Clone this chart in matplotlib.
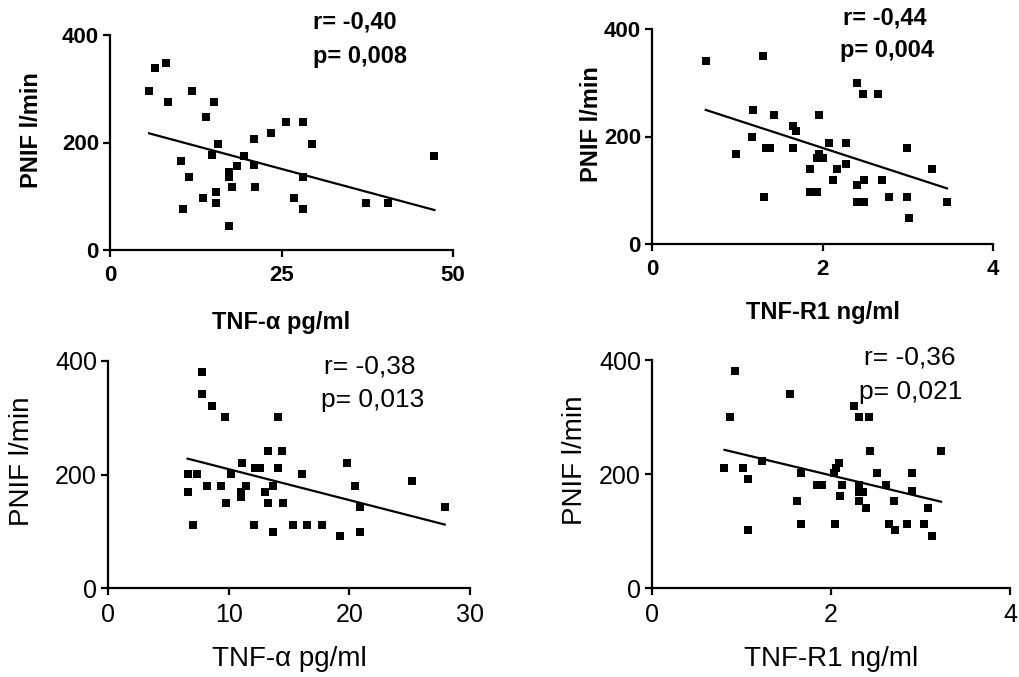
import numpy as np
import matplotlib
matplotlib.use('Agg')
import matplotlib.pyplot as plt

plt.rcParams['font.family'] = ['Liberation Sans', 'DejaVu Sans']

# panel A: TNF-alpha (pg/ml) vs PNIF, top left
tnfa_top = [5.7, 6.5, 8.1, 8.4, 12.0, 15.1, 14.0, 10.4, 11.5, 10.7, 13.5, 15.5, 15.5, 14.8,
            15.8, 17.4, 17.4, 17.8, 17.4, 18.5, 19.5, 21.0, 21.0, 21.1, 23.4, 25.6, 28.1,
            29.5, 28.2, 26.8, 28.1, 37.3, 40.5, 47.3]
pnif_a = [296, 338, 347, 276, 296, 276, 247, 166, 136, 76, 97, 107, 88, 177,
          197, 146, 135, 117, 45, 157, 174, 207, 158, 117, 217, 238, 238,
          197, 135, 97, 76, 88, 88, 175]

# panel B: TNF-R1 (ng/ml) vs PNIF, top right
tnfr1_top = [0.63, 1.30, 2.41, 2.48, 2.65, 1.18, 1.43, 1.96, 1.65, 1.69, 1.17, 0.98, 1.34,
             1.38, 1.65, 2.08, 2.27, 1.96, 1.93, 2.01, 1.85, 2.17, 2.28, 2.12, 2.40, 2.49,
             2.70, 2.99, 3.29, 1.31, 1.85, 1.93, 2.40, 2.49, 2.78, 2.99, 3.02, 3.46]
pnif_b = [340, 350, 299, 280, 280, 250, 240, 240, 219, 210, 200, 168, 179,
          179, 179, 188, 188, 167, 160, 160, 139, 139, 149, 120, 109, 120,
          120, 179, 139, 88, 97, 97, 78, 78, 88, 88, 48, 78]

# panel C: TNF-alpha (pg/ml) vs PNIF, bottom left
tnfa_bot = [7.8, 7.8, 8.6, 9.7, 14.1, 6.6, 7.4, 6.6, 7.05, 8.2, 9.4, 10.2, 9.8, 11.1,
            11.0, 11.0, 11.4, 12.2, 12.6, 12.1, 13.0, 13.3, 14.4, 14.1, 13.7, 13.3, 14.5,
            13.7, 15.3, 16.1, 16.5, 17.7, 19.2, 19.8, 20.5, 20.9, 20.9, 25.2, 27.9]
pnif_c = [381, 341, 321, 301, 301, 201, 201, 170, 111, 180, 180, 201, 150, 220,
          170, 161, 180, 211, 211, 111, 170, 241, 241, 211, 180, 150, 150,
          98, 111, 201, 111, 111, 91, 220, 180, 142, 98, 189, 142]

# panel D: TNF-R1 (ng/ml) vs PNIF, bottom right
tnfr1_bot = [0.93, 0.87, 1.54, 2.26, 2.31, 2.43, 2.44, 3.23, 0.81, 1.02, 1.07, 1.23, 1.07,
             1.67, 1.62, 1.67, 1.84, 1.90, 2.04, 2.09, 2.06, 2.03, 2.12, 2.10, 2.31, 2.36,
             2.31, 2.31, 2.39, 2.51, 2.62, 2.70, 2.65, 2.72, 2.85, 2.91, 2.91, 3.04, 3.08, 3.13]
pnif_d = [380, 300, 341, 320, 300, 300, 240, 240, 210, 210, 191, 222, 102,
          201, 152, 112, 180, 180, 112, 219, 210, 201, 180, 162, 180, 169,
          169, 152, 141, 201, 180, 152, 112, 102, 112, 201, 171, 112, 141, 92]

# regression lines as drawn (intercept, slope)
fit_intercept = [236.6, 282.0, 263.9, 272.8]
fit_slope = [-3.43, -51.6, -5.45, -37.6]

r_text = ['r= -0,40', 'r= -0,44', 'r= -0,38', 'r= -0,36']
p_text = ['p= 0,008', 'p= 0,004', 'p= 0,013', 'p= 0,021']

x_labels = ['TNF-\u03b1 pg/ml', 'TNF-R1 ng/ml', 'TNF-\u03b1 pg/ml', 'TNF-R1 ng/ml']
y_label = 'PNIF l/min'
x_ticks = [[0, 25, 50], [0, 2, 4], [0, 10, 20, 30], [0, 2, 4]]
y_ticks = [0, 200, 400]

xs = [tnfa_top, tnfr1_top, tnfa_bot, tnfr1_bot]
ys = [pnif_a, pnif_b, pnif_c, pnif_d]

W, H = 1019, 677
fig = plt.figure(figsize=(W / 100, H / 100), dpi=100)

# axes boxes in pixels: left, right, top, bottom
boxes = [(110, 453, 35, 250), (652, 993, 29, 244), (108, 470, 361, 588), (652, 1010, 360, 588)]
# label centres: x label distance below axis, y label distance left of axis (pixels)
xlab_off = [72, 68, 71, 71]
ylab_off = [78, 60, 86, 77]
# annotation text positions (pixels: left, vertical centre)
r_pos = [(313, 22), (843, 18), (324, 367), (864, 357)]
p_pos = [(313, 57), (840, 50), (321, 400), (859, 392)]

for i in range(4):
    l, r, t, b = boxes[i]
    ax = fig.add_axes([l / W, 1 - b / H, (r - l) / W, (b - t) / H])
    top = i < 2
    fw = 'bold' if top else 'normal'
    tick_fs = 16 if top else 18
    lab_fs = 17 if top else 20
    ann_fs = 17 if top else 19

    ax.scatter(xs[i], ys[i], marker='s', s=26, color='black', linewidths=0, clip_on=False, zorder=3)
    lx = np.array([min(xs[i]), max(xs[i])])
    ax.plot(lx, fit_intercept[i] + fit_slope[i] * lx, color='black', lw=1.6, zorder=2)

    ax.set_xlim(x_ticks[i][0], x_ticks[i][-1])
    ax.set_ylim(0, 400)
    ax.set_xticks(x_ticks[i])
    ax.set_yticks(y_ticks)
    for s in ['top', 'right']:
        ax.spines[s].set_visible(False)
    for s in ['left', 'bottom']:
        ax.spines[s].set_linewidth(1.6)
    ax.tick_params(direction='out', length=5, width=1.6, labelsize=tick_fs)
    ax.tick_params(axis='x', pad=6)
    ax.tick_params(axis='y', pad=3)
    for lab in ax.get_xticklabels() + ax.get_yticklabels():
        lab.set_fontweight(fw)

    ax.set_xlabel(x_labels[i], fontsize=lab_fs, fontweight=fw, va='center')
    ax.xaxis.set_label_coords(0.5, -xlab_off[i] / (b - t))
    ax.set_ylabel(y_label, fontsize=lab_fs, fontweight=fw, va='center')
    ax.yaxis.set_label_coords(-ylab_off[i] / (r - l), 0.56)

    fig.text(r_pos[i][0] / W, 1 - r_pos[i][1] / H, r_text[i], fontsize=ann_fs, fontweight=fw, va='center')
    fig.text(p_pos[i][0] / W, 1 - p_pos[i][1] / H, p_text[i], fontsize=ann_fs, fontweight=fw, va='center')

fig.savefig('out.png', dpi=100)
